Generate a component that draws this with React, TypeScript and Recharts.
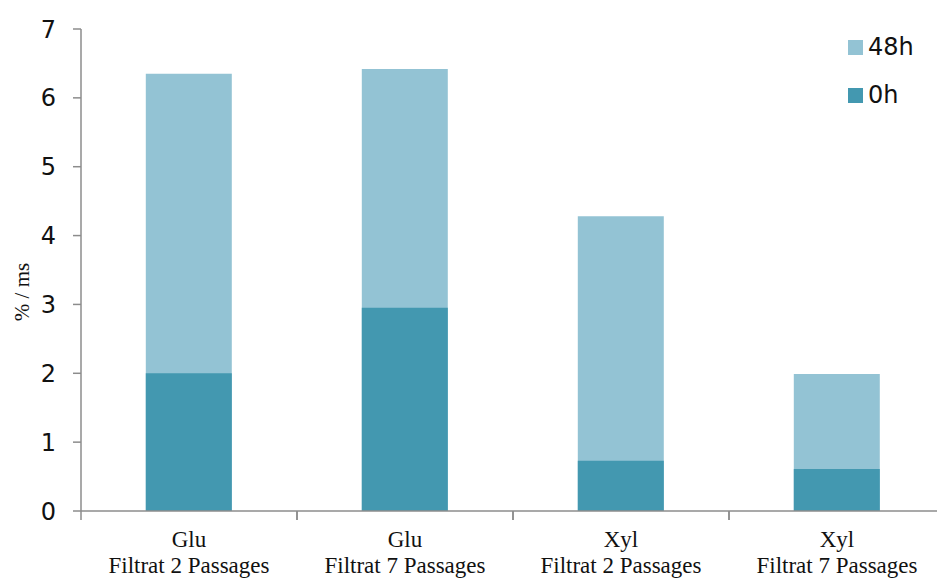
import React from "react";
import { BarChart, Bar, XAxis, YAxis } from "recharts";

const sugars = ["Glu", "Glu", "Xyl", "Xyl"];
const filtrates = [
  "Filtrat 2 Passages",
  "Filtrat 7 Passages",
  "Filtrat 2 Passages",
  "Filtrat 7 Passages",
];
const values48h = [6.35, 6.42, 4.28, 1.99];
const values0h = [2.0, 2.95, 0.73, 0.61];
const yTicks = [0, 1, 2, 3, 4, 5, 6, 7];

const data = sugars.map((s, i) => ({
  name: `${s}|${filtrates[i]}`,
  h48: values48h[i],
  h0: values0h[i],
}));

const LIGHT = "#93c3d4";
const DARK = "#4398b0";
const AXIS = "#8c8c8c";

const CHART_W = 945;
const CHART_H = 579;
const LEFT = 81;
const BAND = (CHART_W - LEFT) / data.length;

function CategoryTick(props: any) {
  const { x, y, payload } = props;
  const [sugar, filt] = String(payload.value).split("|");
  return (
    <g>
      <line x1={x - BAND / 2} y1={y - 8} x2={x - BAND / 2} y2={y + 1} stroke={AXIS} strokeWidth={1.5} />
      <line x1={x + BAND / 2} y1={y - 8} x2={x + BAND / 2} y2={y + 1} stroke={AXIS} strokeWidth={1.5} />
      <text
        x={x}
        textAnchor="middle"
        fontFamily="'Liberation Serif', 'Times New Roman', serif"
        fontSize={23}
        fill="#111"
      >
        <tspan x={x} y={y + 28}>{sugar}</tspan>
        <tspan x={x} y={y + 54}>{filt}</tspan>
      </text>
    </g>
  );
}

function YLabel(props: any) {
  const cx = 22;
  const cy = 292;
  return (
    <text
      x={cx}
      y={cy}
      transform={`rotate(-90 ${cx} ${cy})`}
      textAnchor="middle"
      dominantBaseline="central"
      fontFamily="'Liberation Serif', 'Times New Roman', serif"
      fontSize={21}
      fill="#111"
    >
      % / ms
    </text>
  );
}

const legendItems = [
  { label: "48h", color: LIGHT, top: 32 },
  { label: "0h", color: DARK, top: 80 },
];

export default function App() {
  return (
    <div style={{ position: "absolute", left: 0, top: 0, width: 937, height: 579, overflow: "hidden", background: "#fff" }}>
      <BarChart
        width={CHART_W}
        height={CHART_H}
        data={data}
        margin={{ top: 29, right: 0, left: 0, bottom: 0 }}
        barCategoryGap="30%"
      >
        <XAxis xAxisId="back" dataKey="name" hide height={0} />
        <XAxis
          xAxisId="main"
          dataKey="name"
          height={68}
          axisLine={{ stroke: AXIS, strokeWidth: 1.5 }}
          tickLine={false}
          tick={<CategoryTick />}
          interval={0}
        />
        <YAxis
          width={LEFT}
          domain={[0, 7]}
          ticks={yTicks}
          interval={0}
          axisLine={{ stroke: AXIS, strokeWidth: 1.5 }}
          tickLine={{ stroke: AXIS, strokeWidth: 1.5 }}
          tickSize={8}
          tickMargin={17}
          tick={{ fill: "#111", fontSize: 24, fontFamily: "'DejaVu Sans', sans-serif" }}
          label={{ content: (p: any) => <YLabel {...p} /> }}
        />
        <Bar xAxisId="back" dataKey="h48" name="48h" fill={LIGHT} isAnimationActive={false} />
        <Bar xAxisId="main" dataKey="h0" name="0h" fill={DARK} isAnimationActive={false} />
      </BarChart>
      {legendItems.map((it) => (
        <div
          key={it.label}
          style={{
            position: "absolute",
            left: 848,
            top: it.top,
            height: 30,
            display: "flex",
            alignItems: "center",
            fontFamily: "'DejaVu Sans', sans-serif",
            fontSize: 24,
            color: "#111",
          }}
        >
          <span style={{ width: 15, height: 15, background: it.color, marginRight: 5, display: "inline-block" }} />
          <span>{it.label}</span>
        </div>
      ))}
    </div>
  );
}
